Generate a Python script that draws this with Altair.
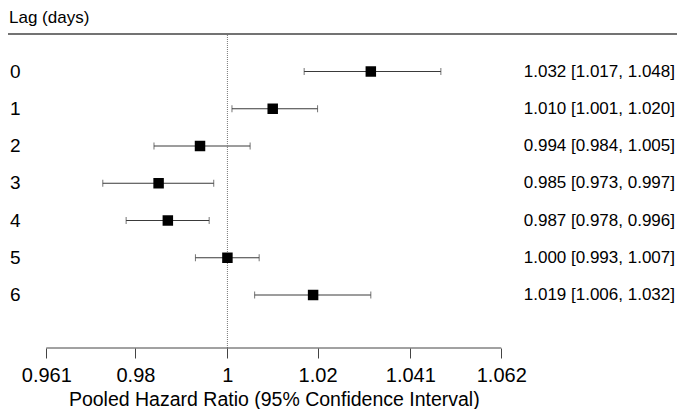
import altair as alt
import pandas as pd

lags = [0, 1, 2, 3, 4, 5, 6]
hr = [1.032, 1.010, 0.994, 0.985, 0.987, 1.000, 1.019]
lo = [1.017, 1.001, 0.984, 0.973, 0.978, 0.993, 1.006]
hi = [1.048, 1.020, 1.005, 0.997, 0.996, 1.007, 1.032]
tick_values = [0.961, 0.98, 1, 1.02, 1.041, 1.062]

FONT = "Liberation Sans, Arial, sans-serif"
W, H = 669, 340

df = pd.DataFrame({"lag": lags, "hr": hr, "lo": lo, "hi": hi})
df["label"] = [f"{h:.3f} [{l:.3f}, {u:.3f}]" for h, l, u in zip(hr, lo, hi)]
df["lagtxt"] = [str(v) for v in lags]

xscale = alt.Scale(type="log", domain=[0.95295, 1.10379], nice=False, zero=False)
yscale = alt.Scale(domain=[-1.7047, 7.4228], reverse=True, nice=False, zero=False)

xaxis = alt.Axis(
    values=tick_values, format=".3~f", grid=False, domain=False,
    tickSize=10, tickColor="#444", tickWidth=1,
    labelFont=FONT, labelFontSize=20, labelColor="black", labelPadding=7,
    labelOverlap=False, labelFlush=False,
    title="Pooled Hazard Ratio (95% Confidence Interval)",
    titleFont=FONT, titleFontSize=19.5, titleFontWeight="normal", titleColor="black",
    titleX=265.8, titleY=57, titleBaseline="alphabetic", titleAlign="center",
)

base = alt.Chart(df)

bars = base.mark_rule(color="#3a3a3a", strokeWidth=1).encode(
    x=alt.X("lo:Q", scale=xscale, axis=xaxis),
    x2="hi:Q",
    y=alt.Y("lag:Q", scale=yscale, axis=None),
)
cap_lo = base.mark_tick(orient="vertical", size=7, thickness=1, color="#3a3a3a").encode(
    x=alt.X("lo:Q", scale=xscale), y=alt.Y("lag:Q", scale=yscale)
)
cap_hi = base.mark_tick(orient="vertical", size=7, thickness=1, color="#3a3a3a").encode(
    x=alt.X("hi:Q", scale=xscale), y=alt.Y("lag:Q", scale=yscale)
)
pts = base.mark_square(size=110, color="black", opacity=1, filled=True).encode(
    x=alt.X("hr:Q", scale=xscale), y=alt.Y("lag:Q", scale=yscale)
)
left_txt = base.mark_text(align="left", baseline="middle", font=FONT, fontSize=19, color="black").encode(
    x=alt.value(2), y=alt.Y("lag:Q", scale=yscale), text="lagtxt:N"
)
right_txt = base.mark_text(align="right", baseline="middle", font=FONT, fontSize=17, color="black").encode(
    x=alt.value(667), y=alt.Y("lag:Q", scale=yscale), text="label:N"
)

ref = alt.Chart(pd.DataFrame({"v": [1.0]})).mark_rule(color="#777", strokeDash=[1, 1], strokeWidth=1).encode(
    x=alt.X("v:Q", scale=xscale), y=alt.value(27), y2=alt.value(H)
)
axis_line = alt.Chart(pd.DataFrame({"a": [tick_values[0]], "b": [tick_values[-1]]})).mark_rule(
    color="#444", strokeWidth=1
).encode(x=alt.X("a:Q", scale=xscale), x2="b:Q", y=alt.value(H))

top_line = alt.Chart(pd.DataFrame({"t": ["Lag (days)"]})).mark_rule(color="#444", strokeWidth=1.3).encode(
    x=alt.value(0), x2=alt.value(W), y=alt.value(26)
)
header = alt.Chart(pd.DataFrame({"t": ["Lag (days)"]})).mark_text(
    align="left", baseline="alphabetic", font=FONT, fontSize=17, color="black"
).encode(x=alt.value(1), y=alt.value(15), text="t:N")

chart = alt.layer(bars, cap_lo, cap_hi, ref, pts, axis_line, top_line, header, left_txt, right_txt).properties(
    width=W, height=H,
    autosize=alt.AutoSizeParams(type="none"),
    padding={"left": 0, "top": 0, "right": 0, "bottom": 61},
).configure_view(stroke=None)

chart.save("out.html", embed_options={"renderer": "svg", "actions": False})
